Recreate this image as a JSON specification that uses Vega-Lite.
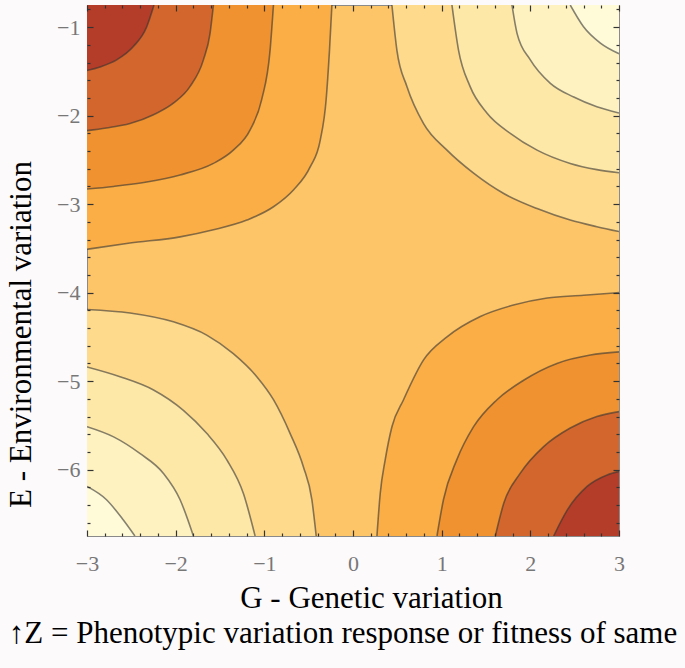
{
  "$schema": "https://vega.github.io/schema/vega-lite/v6.json",
  "width": 532,
  "height": 531,
  "autosize": {"type": "none"},
  "padding": {"left": 87, "top": 5, "right": 66, "bottom": 132},
  "background": "#fdfafc",
  "title": {
    "text": "↑Z = Phenotypic variation response or fitness of same",
    "orient": "bottom",
    "anchor": "middle",
    "frame": "group",
    "font": "Liberation Serif",
    "fontSize": 31,
    "fontWeight": "normal",
    "color": "#000000",
    "offset": 6,
    "dx": -10
  },
  "config": {
    "view": {"fill": "#FDC468", "stroke": "#8a8a8a", "strokeWidth": 1}
  },
  "datasets": {
    "curves": [
      {"id": "TL1", "s": "t", "k": 1, "G": -3.0, "E": -3.51},
      {"id": "TL1", "s": "t", "k": 1, "G": -2.515, "E": -3.44},
      {"id": "TL1", "s": "t", "k": 1, "G": -1.95, "E": -3.37},
      {"id": "TL1", "s": "t", "k": 1, "G": -1.574, "E": -3.29},
      {"id": "TL1", "s": "t", "k": 1, "G": -1.197, "E": -3.18},
      {"id": "TL1", "s": "t", "k": 1, "G": -0.897, "E": -3.03},
      {"id": "TL1", "s": "t", "k": 1, "G": -0.672, "E": -2.84},
      {"id": "TL1", "s": "t", "k": 1, "G": -0.483, "E": -2.58},
      {"id": "TL1", "s": "t", "k": 1, "G": -0.37, "E": -2.28},
      {"id": "TL1", "s": "t", "k": 1, "G": -0.303, "E": -1.82},
      {"id": "TL1", "s": "t", "k": 1, "G": -0.265, "E": -1.26},
      {"id": "TL1", "s": "t", "k": 1, "G": -0.238, "E": -0.75},

      {"id": "TL2", "s": "t", "k": 2, "G": -3.0, "E": -2.83},
      {"id": "TL2", "s": "t", "k": 2, "G": -2.70, "E": -2.80},
      {"id": "TL2", "s": "t", "k": 2, "G": -2.326, "E": -2.75},
      {"id": "TL2", "s": "t", "k": 2, "G": -1.95, "E": -2.67},
      {"id": "TL2", "s": "t", "k": 2, "G": -1.574, "E": -2.54},
      {"id": "TL2", "s": "t", "k": 2, "G": -1.35, "E": -2.39},
      {"id": "TL2", "s": "t", "k": 2, "G": -1.16, "E": -2.16},
      {"id": "TL2", "s": "t", "k": 2, "G": -1.03, "E": -1.82},
      {"id": "TL2", "s": "t", "k": 2, "G": -0.935, "E": -1.26},
      {"id": "TL2", "s": "t", "k": 2, "G": -0.897, "E": -0.75},

      {"id": "TL3", "s": "t", "k": 3, "G": -3.0, "E": -2.17},
      {"id": "TL3", "s": "t", "k": 3, "G": -2.78, "E": -2.14},
      {"id": "TL3", "s": "t", "k": 3, "G": -2.515, "E": -2.09},
      {"id": "TL3", "s": "t", "k": 3, "G": -2.25, "E": -1.99},
      {"id": "TL3", "s": "t", "k": 3, "G": -2.026, "E": -1.86},
      {"id": "TL3", "s": "t", "k": 3, "G": -1.837, "E": -1.67},
      {"id": "TL3", "s": "t", "k": 3, "G": -1.687, "E": -1.37},
      {"id": "TL3", "s": "t", "k": 3, "G": -1.612, "E": -1.07},
      {"id": "TL3", "s": "t", "k": 3, "G": -1.574, "E": -0.75},

      {"id": "TL4", "s": "t", "k": 4, "G": -3.0, "E": -1.49},
      {"id": "TL4", "s": "t", "k": 4, "G": -2.853, "E": -1.45},
      {"id": "TL4", "s": "t", "k": 4, "G": -2.665, "E": -1.37},
      {"id": "TL4", "s": "t", "k": 4, "G": -2.477, "E": -1.22},
      {"id": "TL4", "s": "t", "k": 4, "G": -2.326, "E": -0.995},
      {"id": "TL4", "s": "t", "k": 4, "G": -2.244, "E": -0.75},

      {"id": "TR1", "s": "t", "k": 1, "G": 0.439, "E": -0.75},
      {"id": "TR1", "s": "t", "k": 1, "G": 0.495, "E": -1.26},
      {"id": "TR1", "s": "t", "k": 1, "G": 0.608, "E": -1.67},
      {"id": "TR1", "s": "t", "k": 1, "G": 0.796, "E": -2.09},
      {"id": "TR1", "s": "t", "k": 1, "G": 1.06, "E": -2.39},
      {"id": "TR1", "s": "t", "k": 1, "G": 1.36, "E": -2.65},
      {"id": "TR1", "s": "t", "k": 1, "G": 1.70, "E": -2.88},
      {"id": "TR1", "s": "t", "k": 1, "G": 2.076, "E": -3.05},
      {"id": "TR1", "s": "t", "k": 1, "G": 2.45, "E": -3.18},
      {"id": "TR1", "s": "t", "k": 1, "G": 2.75, "E": -3.255},
      {"id": "TR1", "s": "t", "k": 1, "G": 3.0, "E": -3.31},

      {"id": "TR2", "s": "t", "k": 2, "G": 1.116, "E": -0.75},
      {"id": "TR2", "s": "t", "k": 2, "G": 1.19, "E": -1.26},
      {"id": "TR2", "s": "t", "k": 2, "G": 1.32, "E": -1.67},
      {"id": "TR2", "s": "t", "k": 2, "G": 1.51, "E": -1.97},
      {"id": "TR2", "s": "t", "k": 2, "G": 1.774, "E": -2.20},
      {"id": "TR2", "s": "t", "k": 2, "G": 2.076, "E": -2.39},
      {"id": "TR2", "s": "t", "k": 2, "G": 2.45, "E": -2.54},
      {"id": "TR2", "s": "t", "k": 2, "G": 2.75, "E": -2.61},
      {"id": "TR2", "s": "t", "k": 2, "G": 3.0, "E": -2.645},

      {"id": "TR3", "s": "t", "k": 3, "G": 1.793, "E": -0.75},
      {"id": "TR3", "s": "t", "k": 3, "G": 1.85, "E": -1.07},
      {"id": "TR3", "s": "t", "k": 3, "G": 2.0, "E": -1.37},
      {"id": "TR3", "s": "t", "k": 3, "G": 2.226, "E": -1.635},
      {"id": "TR3", "s": "t", "k": 3, "G": 2.49, "E": -1.79},
      {"id": "TR3", "s": "t", "k": 3, "G": 2.75, "E": -1.90},
      {"id": "TR3", "s": "t", "k": 3, "G": 3.0, "E": -1.97},

      {"id": "TR4", "s": "t", "k": 4, "G": 2.45, "E": -0.75},
      {"id": "TR4", "s": "t", "k": 4, "G": 2.60, "E": -0.995},
      {"id": "TR4", "s": "t", "k": 4, "G": 2.79, "E": -1.18},
      {"id": "TR4", "s": "t", "k": 4, "G": 3.0, "E": -1.30},

      {"id": "BL1", "s": "b", "k": 1, "G": -3.0, "E": -4.19},
      {"id": "BL1", "s": "b", "k": 1, "G": -2.515, "E": -4.23},
      {"id": "BL1", "s": "b", "k": 1, "G": -2.026, "E": -4.33},
      {"id": "BL1", "s": "b", "k": 1, "G": -1.65, "E": -4.48},
      {"id": "BL1", "s": "b", "k": 1, "G": -1.35, "E": -4.69},
      {"id": "BL1", "s": "b", "k": 1, "G": -1.085, "E": -4.95},
      {"id": "BL1", "s": "b", "k": 1, "G": -0.897, "E": -5.21},
      {"id": "BL1", "s": "b", "k": 1, "G": -0.71, "E": -5.59},
      {"id": "BL1", "s": "b", "k": 1, "G": -0.559, "E": -5.97},
      {"id": "BL1", "s": "b", "k": 1, "G": -0.464, "E": -6.34},
      {"id": "BL1", "s": "b", "k": 1, "G": -0.415, "E": -6.75},

      {"id": "BL2", "s": "b", "k": 2, "G": -3.0, "E": -4.84},
      {"id": "BL2", "s": "b", "k": 2, "G": -2.628, "E": -4.95},
      {"id": "BL2", "s": "b", "k": 2, "G": -2.25, "E": -5.10},
      {"id": "BL2", "s": "b", "k": 2, "G": -1.913, "E": -5.33},
      {"id": "BL2", "s": "b", "k": 2, "G": -1.65, "E": -5.59},
      {"id": "BL2", "s": "b", "k": 2, "G": -1.423, "E": -5.89},
      {"id": "BL2", "s": "b", "k": 2, "G": -1.236, "E": -6.27},
      {"id": "BL2", "s": "b", "k": 2, "G": -1.104, "E": -6.75},

      {"id": "BL3", "s": "b", "k": 3, "G": -3.0, "E": -5.515},
      {"id": "BL3", "s": "b", "k": 3, "G": -2.70, "E": -5.63},
      {"id": "BL3", "s": "b", "k": 3, "G": -2.40, "E": -5.82},
      {"id": "BL3", "s": "b", "k": 3, "G": -2.14, "E": -6.04},
      {"id": "BL3", "s": "b", "k": 3, "G": -1.95, "E": -6.34},
      {"id": "BL3", "s": "b", "k": 3, "G": -1.80, "E": -6.75},

      {"id": "BL4", "s": "b", "k": 4, "G": -3.0, "E": -6.19},
      {"id": "BL4", "s": "b", "k": 4, "G": -2.78, "E": -6.34},
      {"id": "BL4", "s": "b", "k": 4, "G": -2.59, "E": -6.57},
      {"id": "BL4", "s": "b", "k": 4, "G": -2.46, "E": -6.75},

      {"id": "BR1", "s": "b", "k": 1, "G": 0.27, "E": -6.75},
      {"id": "BR1", "s": "b", "k": 1, "G": 0.307, "E": -6.27},
      {"id": "BR1", "s": "b", "k": 1, "G": 0.363, "E": -5.89},
      {"id": "BR1", "s": "b", "k": 1, "G": 0.439, "E": -5.515},
      {"id": "BR1", "s": "b", "k": 1, "G": 0.57, "E": -5.21},
      {"id": "BR1", "s": "b", "k": 1, "G": 0.796, "E": -4.76},
      {"id": "BR1", "s": "b", "k": 1, "G": 1.06, "E": -4.50},
      {"id": "BR1", "s": "b", "k": 1, "G": 1.436, "E": -4.27},
      {"id": "BR1", "s": "b", "k": 1, "G": 1.81, "E": -4.14},
      {"id": "BR1", "s": "b", "k": 1, "G": 2.19, "E": -4.06},
      {"id": "BR1", "s": "b", "k": 1, "G": 2.60, "E": -4.03},
      {"id": "BR1", "s": "b", "k": 1, "G": 3.0, "E": -4.00},

      {"id": "BR2", "s": "b", "k": 2, "G": 0.947, "E": -6.75},
      {"id": "BR2", "s": "b", "k": 2, "G": 1.02, "E": -6.34},
      {"id": "BR2", "s": "b", "k": 2, "G": 1.17, "E": -5.89},
      {"id": "BR2", "s": "b", "k": 2, "G": 1.36, "E": -5.515},
      {"id": "BR2", "s": "b", "k": 2, "G": 1.624, "E": -5.21},
      {"id": "BR2", "s": "b", "k": 2, "G": 1.924, "E": -4.99},
      {"id": "BR2", "s": "b", "k": 2, "G": 2.30, "E": -4.80},
      {"id": "BR2", "s": "b", "k": 2, "G": 2.677, "E": -4.705},
      {"id": "BR2", "s": "b", "k": 2, "G": 3.0, "E": -4.67},

      {"id": "BR3", "s": "b", "k": 3, "G": 1.605, "E": -6.75},
      {"id": "BR3", "s": "b", "k": 3, "G": 1.70, "E": -6.38},
      {"id": "BR3", "s": "b", "k": 3, "G": 1.887, "E": -6.04},
      {"id": "BR3", "s": "b", "k": 3, "G": 2.15, "E": -5.74},
      {"id": "BR3", "s": "b", "k": 3, "G": 2.45, "E": -5.53},
      {"id": "BR3", "s": "b", "k": 3, "G": 2.75, "E": -5.40},
      {"id": "BR3", "s": "b", "k": 3, "G": 3.0, "E": -5.345},

      {"id": "BR4", "s": "b", "k": 4, "G": 2.263, "E": -6.75},
      {"id": "BR4", "s": "b", "k": 4, "G": 2.414, "E": -6.46},
      {"id": "BR4", "s": "b", "k": 4, "G": 2.64, "E": -6.19},
      {"id": "BR4", "s": "b", "k": 4, "G": 2.866, "E": -6.06},
      {"id": "BR4", "s": "b", "k": 4, "G": 3.0, "E": -6.02}
    ]
  },
  "data": {"name": "curves"},
  "resolve": {"axis": {"x": "independent", "y": "independent"}},
  "layer": [
    {
      "encoding": {
        "x": {
          "field": "G", "type": "quantitative",
          "scale": {"domain": [-3, 3], "nice": false, "zero": false},
          "axis": {
            "orient": "bottom",
            "values": [-3, -2, -1, 0, 1, 2, 3],
            "format": "d",
            "tickSize": -6,
            "tickColor": "#333333",
            "tickWidth": 1.2,
            "domain": false,
            "grid": false,
            "zindex": 1,
            "labelFont": "Liberation Serif",
            "labelFontSize": 22,
            "labelColor": "#777777",
            "labelPadding": 23,
            "labelFlush": false,
            "labelOverlap": false,
            "title": "G - Genetic variation",
            "titleFont": "Liberation Serif",
            "titleFontSize": 31,
            "titleFontWeight": "normal",
            "titleColor": "#000000",
            "titleX": 284,
            "titleY": 71,
            "titleAlign": "center",
            "titleBaseline": "alphabetic"
          }
        },
        "y": {
          "field": "E", "type": "quantitative",
          "scale": {"domain": [-6.75, -0.75], "nice": false, "zero": false},
          "axis": {
            "orient": "left",
            "values": [-1, -2, -3, -4, -5, -6],
            "format": "d",
            "tickSize": -6,
            "tickColor": "#333333",
            "tickWidth": 1.2,
            "domain": false,
            "grid": false,
            "zindex": 1,
            "labelFont": "Liberation Serif",
            "labelFontSize": 22,
            "labelColor": "#777777",
            "labelPadding": 13,
            "labelFlush": false,
            "labelOverlap": false,
            "title": "E - Environmental variation",
            "titleFont": "Liberation Serif",
            "titleFontSize": 31,
            "titleFontWeight": "normal",
            "titleColor": "#000000",
            "titleAngle": 270,
            "titleX": -57,
            "titleY": 329,
            "titleAlign": "center",
            "titleBaseline": "alphabetic"
          }
        },
        "y2": {"datum": -0.75},
        "color": {
          "field": "id", "type": "nominal", "legend": null,
          "scale": {
            "domain": ["TL1","TL2","TL3","TL4","BR1","BR2","BR3","BR4","TR1","TR2","TR3","TR4","BL1","BL2","BL3","BL4"],
            "range": ["#FBAE45","#F0922F","#D3662C","#B33D28","#FBAE45","#F0922F","#D3662C","#B33D28","#FEDA8C","#FEE8A8","#FEF2C0","#FFFBD8","#FEDA8C","#FEE8A8","#FEF2C0","#FFFBD8"]
          }
        }
      },
      "layer": [
        {"transform": [{"filter": "datum.s == 't' && datum.k == 1"}], "mark": {"type": "area", "orient": "vertical", "interpolate": "monotone", "clip": true}},
        {"transform": [{"filter": "datum.s == 't' && datum.k == 2"}], "mark": {"type": "area", "orient": "vertical", "interpolate": "monotone", "clip": true}},
        {"transform": [{"filter": "datum.s == 't' && datum.k == 3"}], "mark": {"type": "area", "orient": "vertical", "interpolate": "monotone", "clip": true}},
        {"transform": [{"filter": "datum.s == 't' && datum.k == 4"}], "mark": {"type": "area", "orient": "vertical", "interpolate": "monotone", "clip": true}}
      ]
    },
    {
      "encoding": {
        "x": {
          "field": "G", "type": "quantitative",
          "scale": {"domain": [-3, 3], "nice": false, "zero": false},
          "axis": {
            "orient": "bottom",
            "values": [-2.8,-2.6,-2.4,-2.2,-1.8,-1.6,-1.4,-1.2,-0.8,-0.6,-0.4,-0.2,0.2,0.4,0.6,0.8,1.2,1.4,1.6,1.8,2.2,2.4,2.6,2.8],
            "labels": false, "title": null, "domain": false, "grid": false, "zindex": 1,
            "tickSize": -3, "tickColor": "#333333", "tickWidth": 1.2
          }
        },
        "y": {
          "field": "E", "type": "quantitative",
          "scale": {"domain": [-6.75, -0.75], "nice": false, "zero": false},
          "axis": {
            "orient": "left",
            "values": [-0.8,-1.2,-1.4,-1.6,-1.8,-2.2,-2.4,-2.6,-2.8,-3.2,-3.4,-3.6,-3.8,-4.2,-4.4,-4.6,-4.8,-5.2,-5.4,-5.6,-5.8,-6.2,-6.4,-6.6],
            "labels": false, "title": null, "domain": false, "grid": false, "zindex": 1,
            "tickSize": -3, "tickColor": "#333333", "tickWidth": 1.2
          }
        },
        "y2": {"datum": -6.75},
        "color": {"field": "id", "type": "nominal", "legend": null}
      },
      "layer": [
        {"transform": [{"filter": "datum.s == 'b' && datum.k == 1"}], "mark": {"type": "area", "orient": "vertical", "interpolate": "monotone", "clip": true}},
        {"transform": [{"filter": "datum.s == 'b' && datum.k == 2"}], "mark": {"type": "area", "orient": "vertical", "interpolate": "monotone", "clip": true}},
        {"transform": [{"filter": "datum.s == 'b' && datum.k == 3"}], "mark": {"type": "area", "orient": "vertical", "interpolate": "monotone", "clip": true}},
        {"transform": [{"filter": "datum.s == 'b' && datum.k == 4"}], "mark": {"type": "area", "orient": "vertical", "interpolate": "monotone", "clip": true}}
      ]
    },
    {
      "transform": [{"filter": "datum.s == 't'"}],
      "mark": {"type": "line", "interpolate": "monotone", "color": "#333333", "strokeWidth": 1.6, "opacity": 0.6, "clip": true},
      "encoding": {
        "x": {
          "field": "G", "type": "quantitative",
          "scale": {"domain": [-3, 3], "nice": false, "zero": false},
          "axis": {
            "orient": "top",
            "values": [-3, -2, -1, 0, 1, 2, 3],
            "labels": false, "title": null, "domain": false, "grid": false, "zindex": 1,
            "tickSize": -6, "tickColor": "#333333", "tickWidth": 1.2
          }
        },
        "y": {
          "field": "E", "type": "quantitative",
          "scale": {"domain": [-6.75, -0.75], "nice": false, "zero": false},
          "axis": {
            "orient": "right",
            "values": [-1, -2, -3, -4, -5, -6],
            "labels": false, "title": null, "domain": false, "grid": false, "zindex": 1,
            "tickSize": -6, "tickColor": "#333333", "tickWidth": 1.2
          }
        },
        "detail": {"field": "id", "type": "nominal"}
      }
    },
    {
      "transform": [{"filter": "datum.s == 'b'"}],
      "mark": {"type": "line", "interpolate": "monotone", "color": "#333333", "strokeWidth": 1.6, "opacity": 0.6, "clip": true},
      "encoding": {
        "x": {
          "field": "G", "type": "quantitative",
          "scale": {"domain": [-3, 3], "nice": false, "zero": false},
          "axis": {
            "orient": "top",
            "values": [-2.8,-2.6,-2.4,-2.2,-1.8,-1.6,-1.4,-1.2,-0.8,-0.6,-0.4,-0.2,0.2,0.4,0.6,0.8,1.2,1.4,1.6,1.8,2.2,2.4,2.6,2.8],
            "labels": false, "title": null, "domain": false, "grid": false, "zindex": 1,
            "tickSize": -3, "tickColor": "#333333", "tickWidth": 1.2
          }
        },
        "y": {
          "field": "E", "type": "quantitative",
          "scale": {"domain": [-6.75, -0.75], "nice": false, "zero": false},
          "axis": {
            "orient": "right",
            "values": [-0.8,-1.2,-1.4,-1.6,-1.8,-2.2,-2.4,-2.6,-2.8,-3.2,-3.4,-3.6,-3.8,-4.2,-4.4,-4.6,-4.8,-5.2,-5.4,-5.6,-5.8,-6.2,-6.4,-6.6],
            "labels": false, "title": null, "domain": false, "grid": false, "zindex": 1,
            "tickSize": -3, "tickColor": "#333333", "tickWidth": 1.2
          }
        },
        "detail": {"field": "id", "type": "nominal"}
      }
    }
  ]
}
